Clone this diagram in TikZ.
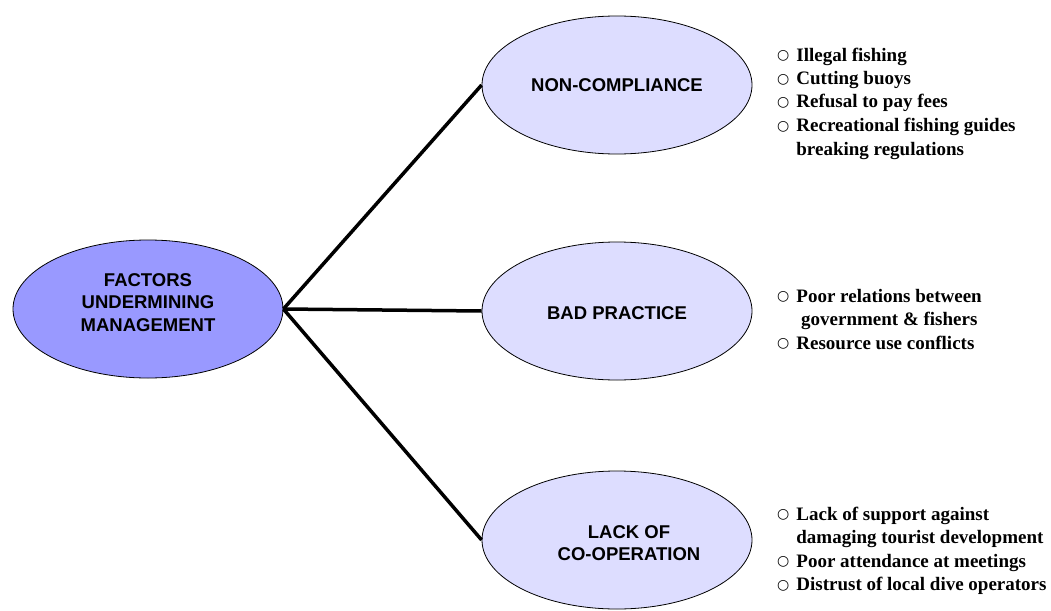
\documentclass[tikz,border=0pt]{standalone}
\usepackage{fontspec}
\setmainfont{Liberation Serif}
\newfontfamily\headfont{Liberation Sans}
\newfontfamily\symfont{DejaVu Sans}
\usepackage{xcolor}
\usepackage{tikz}
\usetikzlibrary{shapes.geometric}
\definecolor{hubblue}{HTML}{9999FF}
\definecolor{leafblue}{HTML}{DDDDFF}
\newcommand{\bul}{\raisebox{1.5pt}{\symfont\fontsize{14}{14}\selectfont ○}}

\begin{document}
\begin{tikzpicture}[x=1pt, y=-1pt,
   every node/.style={inner sep=0pt},
   factor/.style={ellipse, draw=black, line width=0.8pt, minimum width=270pt, minimum height=138pt,
      align=center, font=\headfont\bfseries\fontsize{18.5}{22.5}\selectfont},
   link/.style={line width=3.5pt},
   points/.style={anchor=base west, font=\bfseries\fontsize{19}{23.5}\selectfont}]
   % Frame (always first!)
   \useasboundingbox (0,0) rectangle (1051,610);

    % Main factor
    \node[factor, fill=hubblue] (hub) at (148,309)
       {\raisebox{0.3pt}[0pt][0pt]{\begin{tabular}{@{}c@{}}FACTORS\\UNDERMINING\\MANAGEMENT\end{tabular}}};

    % Sub factors
    \node[factor, fill=leafblue] (nonComp) at (617,85) {NON-COMPLIANCE};
    \node[factor, fill=leafblue] (badPrac) at (617,311) {\raisebox{-8.6pt}[0pt][0pt]{BAD PRACTICE}};
    \node[factor, fill=leafblue] (lackCoop) at (617,540)
       {\raisebox{-9.2pt}[0pt][0pt]{\hspace{24pt}\begin{tabular}{@{}c@{}}LACK OF\\CO-OPERATION\end{tabular}}};

    % Links
    \draw[link] (hub.east) -- (nonComp.west);
    \draw[link] (hub.east) -- (badPrac.west);
    \draw[link] (hub.east) -- (lackCoop.west);

    % Bullet points
    \node[points] (nonCompList) at (777,61) {\begin{tabular}[t]{@{}l@{\hspace{7pt}}l@{}}
       \bul & Illegal fishing\\
       \bul & Cutting buoys\\
       \bul & Refusal to pay fees\\
       \bul & Recreational fishing guides\\
            & breaking regulations
    \end{tabular}};
    \node[points] (badPracList) at (777,302) {\begin{tabular}[t]{@{}l@{\hspace{7pt}}l@{}}
       \bul & Poor relations between\\
            & \ government \& fishers\\
       \bul & Resource use conflicts
    \end{tabular}};
    \node[points] (lackCoopList) at (777,520) {\begin{tabular}[t]{@{}l@{\hspace{7pt}}l@{}}
       \bul & Lack of support against\\
            & damaging tourist development\\
       \bul & Poor attendance at meetings\\
       \bul & Distrust of local dive operators
    \end{tabular}};
\end{tikzpicture}
\end{document}
